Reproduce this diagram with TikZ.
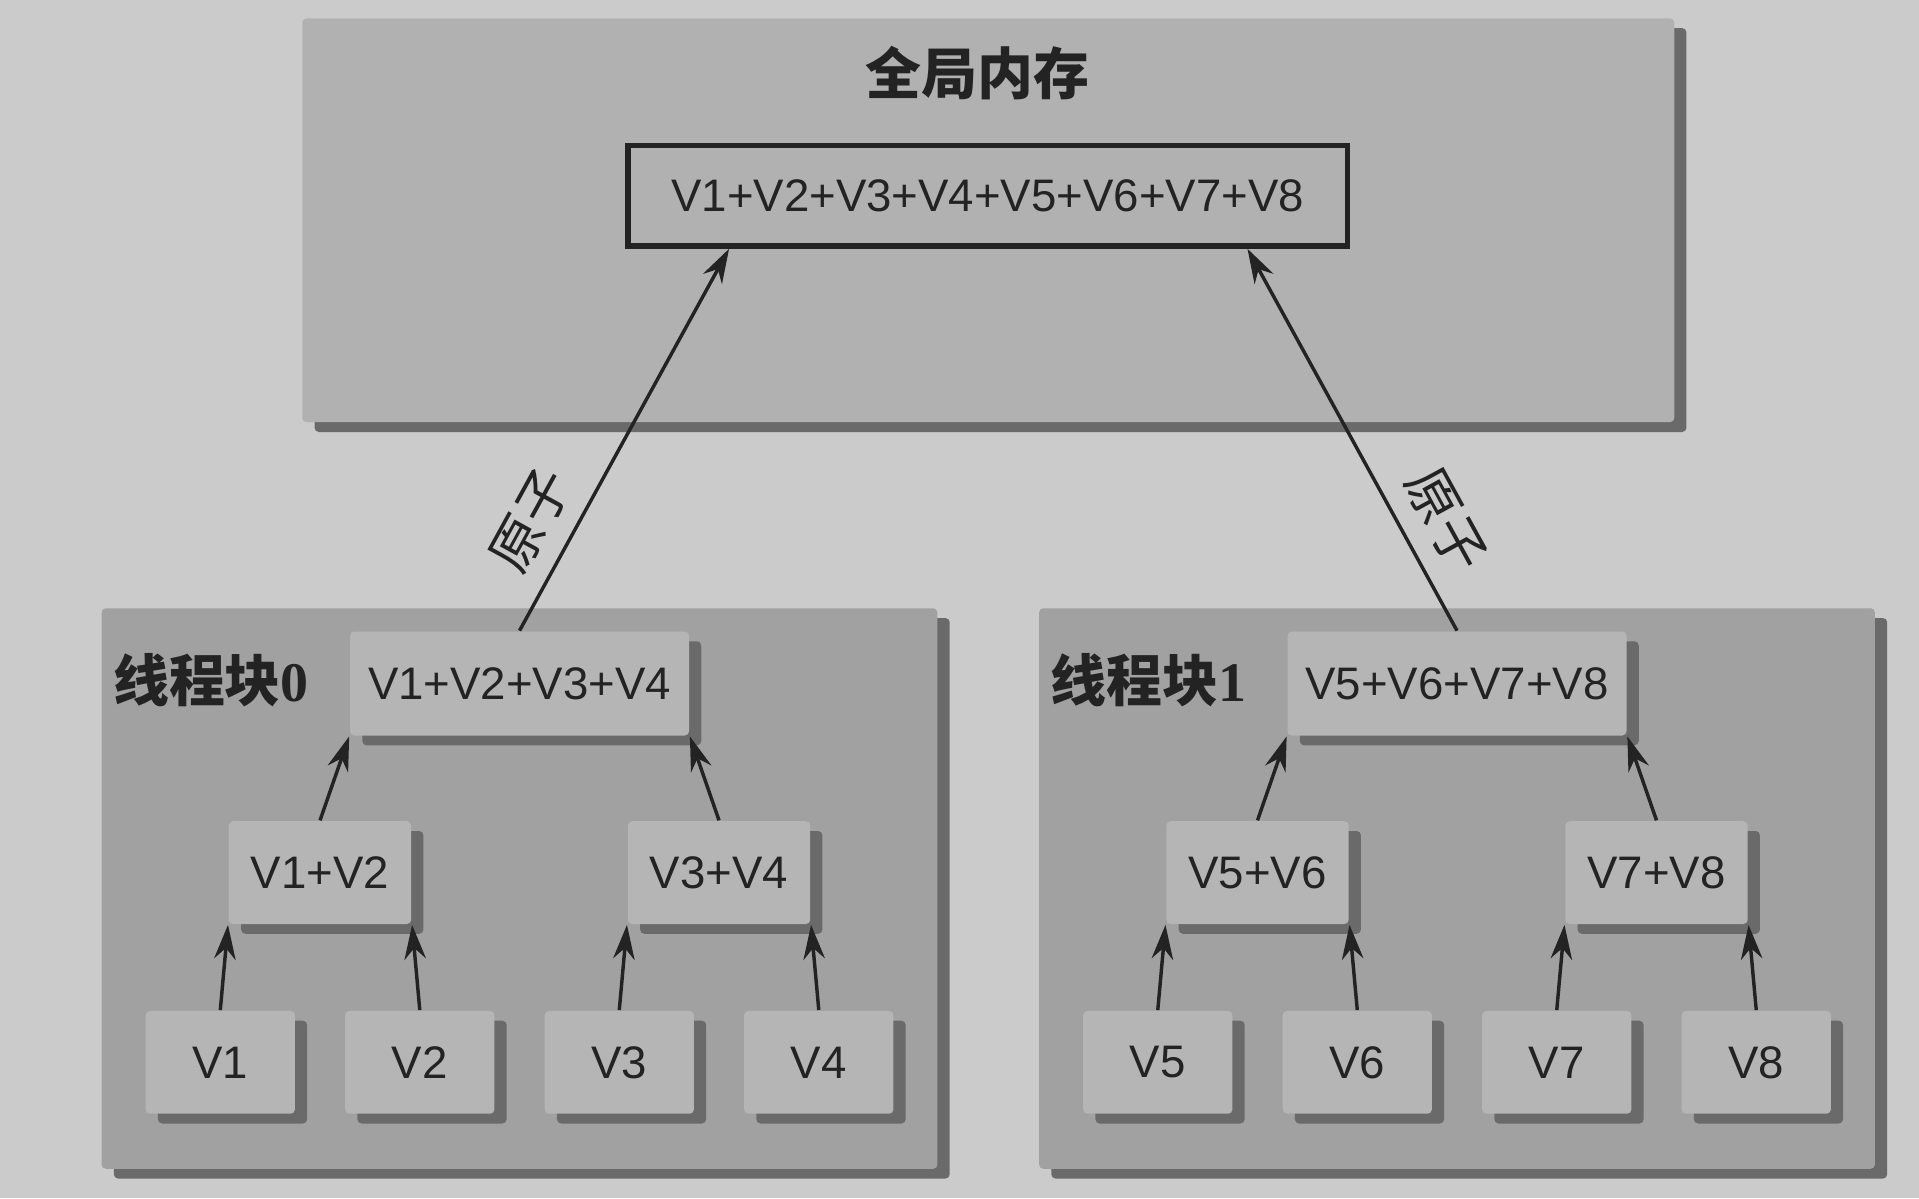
\documentclass[tikz,border=0pt]{standalone}
\usepackage{fontspec}
\setmainfont{Liberation Sans}
\newfontfamily\cjk{Noto Sans CJK SC}
\newfontfamily\digitfont{Liberation Serif}
\usetikzlibrary{positioning,shadows,arrows.meta}
\definecolor{bggray}{HTML}{CBCBCB}
\definecolor{memgray}{HTML}{B1B1B1}
\definecolor{blkgray}{HTML}{A1A1A1}
\definecolor{cellgray}{HTML}{B5B5B5}
\definecolor{shadowgray}{HTML}{6A6A6A}
\definecolor{inkgray}{HTML}{232323}

\begin{document}
\begin{tikzpicture}[node distance=1.63cm,on grid,
    >={Stealth[length=8pt,width=5pt]},
    dropped/.style={drop shadow={shadow xshift=0.1cm,shadow yshift=-0.08cm,fill=shadowgray,opacity=1}},
    blockarea/.style={dropped,fill=blkgray,rounded corners=1pt,inner sep=0pt},
    vcell/.style={dropped,fill=cellgray,rounded corners=1pt,minimum height=0.84cm,
        text=inkgray,font=\fontsize{10.6}{12}\selectfont},
    leafcell/.style={vcell,minimum width=1.22cm},
    paircell/.style={vcell,minimum width=1.49cm},
    quadcell/.style={vcell,minimum width=2.77cm,minimum height=0.85cm},
    cjklabel/.style={text=inkgray,font=\cjk\bfseries\fontsize{13}{15}\selectfont},
    atomlabel/.style={text=inkgray,font=\cjk\fontsize{12.5}{14}\selectfont,sloped,above=1pt,pos=0.235},
    flow/.style={->,line width=0.8pt,color=inkgray}]
    \useasboundingbox[fill=bggray] (0,0) rectangle (15.68,-9.79);

    % global memory
    \node[blockarea,fill=memgray,minimum width=11.21cm,minimum height=3.30cm] (mem) at (8.075,-1.80) {};
    \node[cjklabel] (memtitle) at (7.985,-0.60) {全局内存};
    \node[draw=inkgray,line width=1.3pt,fill=memgray,minimum width=5.88cm,minimum height=0.82cm,
        text=inkgray,font=\fontsize{10.6}{12}\selectfont] (sum) at (8.07,-1.60) {V1+V2+V3+V4+V5+V6+V7+V8};

    % thread blocks
    \node[blockarea,minimum width=6.83cm,minimum height=4.58cm] (blk0) at (4.245,-7.26) {};
    \node[blockarea,minimum width=6.83cm,minimum height=4.58cm] (blk1) at (11.905,-7.26) {};
    \node[cjklabel,anchor=west] (lab0) at (0.80,-5.56) {线程块{\digitfont 0}};
    \node[cjklabel,anchor=west] (lab1) at (8.46,-5.56) {线程块{\digitfont 1}};

    % block 0
    \node[leafcell] (v1) at (1.80,-8.68) {V1};
    \node[leafcell,right=of v1] (v2) {V2};
    \node[leafcell,right=of v2] (v3) {V3};
    \node[leafcell,right=of v3] (v4) {V4};
    \node[paircell,above right=1.55cm and 0.815cm of v1] (v12) {V1+V2};
    \node[paircell,above right=1.55cm and 0.815cm of v3] (v34) {V3+V4};
    \node[quadcell,above right=1.545cm and 1.63cm of v12] (v1234) {V1+V2+V3+V4};

    % block 1
    \node[leafcell] (v5) at (9.46,-8.68) {V5};
    \node[leafcell,right=of v5] (v6) {V6};
    \node[leafcell,right=of v6] (v7) {V7};
    \node[leafcell,right=of v7] (v8) {V8};
    \node[paircell,above right=1.55cm and 0.815cm of v5] (v56) {V5+V6};
    \node[paircell,above right=1.55cm and 0.815cm of v7] (v78) {V7+V8};
    \node[quadcell,above right=1.545cm and 1.63cm of v56] (v5678) {V5+V6+V7+V8};

    \path[flow]
    (v1.north) edge (v12.south west)
    (v2.north) edge (v12.south east)
    (v3.north) edge (v34.south west)
    (v4.north) edge (v34.south east)
    (v12.north) edge (v1234.south west)
    (v34.north) edge (v1234.south east)
    (v5.north) edge (v56.south west)
    (v6.north) edge (v56.south east)
    (v7.north) edge (v78.south west)
    (v8.north) edge (v78.south east)
    (v56.north) edge (v5678.south west)
    (v78.north) edge (v5678.south east)
    (v1234.north) edge node[atomlabel] {原子} ([xshift=0.85cm]sum.south west)
    (v5678.north) edge node[atomlabel] {原子} ([xshift=-0.84cm]sum.south east);
\end{tikzpicture}
\end{document}
